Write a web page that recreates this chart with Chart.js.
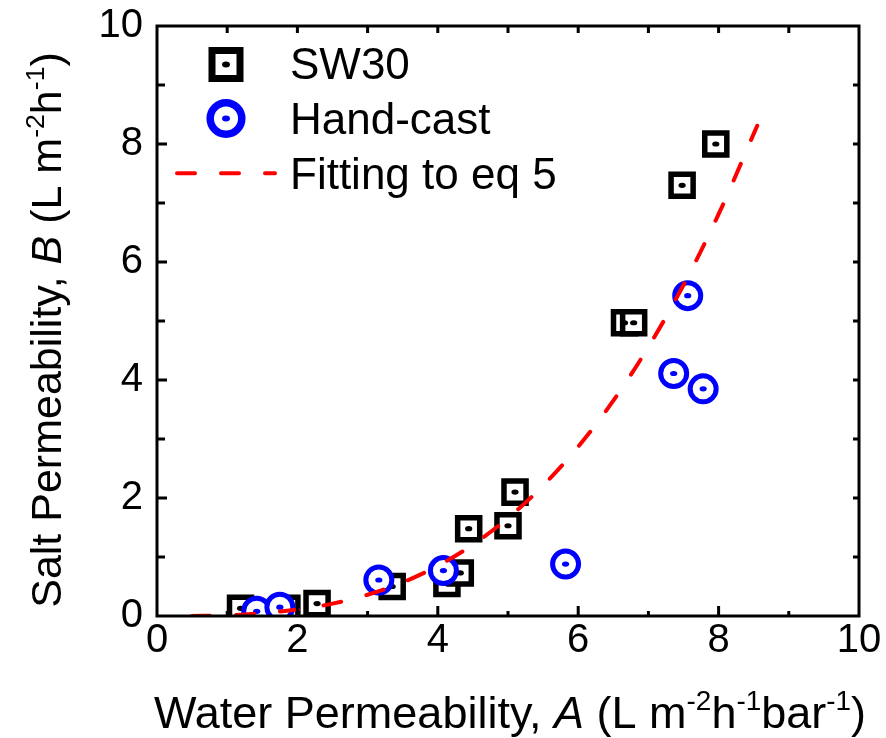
<!DOCTYPE html>
<html>
<head>
<meta charset="utf-8">
<script src="https://cdn.jsdelivr.net/npm/chart.js@4.4.1/dist/chart.umd.min.js"></script>
<style>
  html, body { margin: 0; padding: 0; background: #fff; }
  #wrap { width: 886px; height: 738px; }
</style>
</head>
<body>
<div id="wrap"><canvas id="c" width="886" height="738"></canvas></div>
<script>
// ---- data ----
const sw30X = [1.19, 1.85, 2.28, 3.35, 4.13, 4.32, 4.44, 5.00, 5.10, 6.66, 6.79, 7.48, 7.96];
const sw30Y = [0.13, 0.13, 0.21, 0.50, 0.55, 0.73, 1.48, 1.53, 2.10, 4.97, 4.97, 7.30, 8.00];
const handX = [1.42, 1.75, 3.16, 4.08, 5.82, 7.36, 7.56, 7.78];
const handY = [0.08, 0.15, 0.61, 0.77, 0.88, 4.11, 5.43, 3.85];
const fitX  = [0.5, 1.0, 1.5, 2.0, 2.5, 3.0, 3.5, 4.0, 4.5, 5.0, 5.5, 6.0, 6.5, 7.0, 7.5, 8.0, 8.55];
const fitY  = [0.00, 0.01, 0.05, 0.11, 0.21, 0.36, 0.57, 0.85, 1.21, 1.66, 2.21, 2.87, 3.65, 4.56, 5.61, 6.81, 8.31];
const xTickLabels = ['0', '2', '4', '6', '8', '10'];
const yTickLabels = ['0', '2', '4', '6', '8', '10'];
const seriesNames = ['SW30', 'Hand-cast', 'Fitting to eq 5'];

const zip = (xs, ys) => xs.map((x, i) => ({ x: x, y: ys[i] }));
const FONT = '"Liberation Sans", Arial, Helvetica, sans-serif';

// center dots inside markers
const dotPlugin = {
  id: 'dots',
  afterDatasetDraw(chart, args) {
    const ds = chart.data.datasets[args.index];
    if (!ds.dotColor) return;
    const ctx = chart.ctx;
    ctx.save();
    ctx.fillStyle = ds.dotColor;
    args.meta.data.forEach(p => {
      ctx.beginPath();
      ctx.ellipse(p.x, p.y, 3.6, 2.6, 0, 0, Math.PI * 2);
      ctx.fill();
    });
    ctx.restore();
  }
};

function drawRich(ctx, parts, size) {
  let w = 0;
  const segs = parts.map(([t, st]) => {
    const fs = st === 's' ? size * 0.62 : size;
    const font = (st === 'i' ? 'italic ' : '') + fs + 'px ' + FONT;
    ctx.font = font;
    const mw = ctx.measureText(t).width;
    const seg = { t, font, mw, dy: st === 's' ? -size * 0.40 : 0 };
    w += mw;
    return seg;
  });
  return { segs, w };
}
function paintRich(ctx, rich, x, y) {
  let cx = x;
  rich.segs.forEach(s => {
    ctx.font = s.font;
    ctx.fillText(s.t, cx, y + s.dy);
    cx += s.mw;
  });
}

const framePlugin = {
  id: 'frame',
  afterDraw(chart) {
    const ctx = chart.ctx;
    const a = chart.chartArea;
    const xs = chart.scales.x, ys = chart.scales.y;
    ctx.save();
    ctx.strokeStyle = '#000';
    ctx.lineWidth = 3;
    ctx.lineCap = 'butt';
    for (let v = 1; v < 10; v++) {
      const px = xs.getPixelForValue(v);
      const major = v % 2 === 0;
      ctx.beginPath();
      ctx.moveTo(px, a.bottom); ctx.lineTo(px, a.bottom - (major ? 10 : 5));
      ctx.moveTo(px, a.top); ctx.lineTo(px, a.top + 7);
      ctx.stroke();
      const py = ys.getPixelForValue(v);
      ctx.beginPath();
      ctx.moveTo(a.left, py); ctx.lineTo(a.left + (major ? 10 : 8), py);
      ctx.moveTo(a.right, py); ctx.lineTo(a.right - 6, py);
      ctx.stroke();
    }
    ctx.strokeRect(a.left, a.top, a.right - a.left, a.bottom - a.top);

    // legend
    const lx = 226;
    ctx.fillStyle = '#fff';
    ctx.lineWidth = 7;
    ctx.strokeStyle = '#000';
    ctx.beginPath(); ctx.rect(lx - 14, 64.5 - 14, 28, 28); ctx.fill(); ctx.stroke();
    ctx.fillStyle = '#000';
    ctx.beginPath(); ctx.ellipse(lx, 64.5, 4, 3, 0, 0, Math.PI * 2); ctx.fill();
    ctx.strokeStyle = '#0000ff';
    ctx.lineWidth = 7.5;
    ctx.fillStyle = '#fff';
    ctx.beginPath(); ctx.arc(lx, 118.5, 15.8, 0, Math.PI * 2); ctx.fill(); ctx.stroke();
    ctx.fillStyle = '#0000ff';
    ctx.beginPath(); ctx.ellipse(lx, 118.5, 4, 3, 0, 0, Math.PI * 2); ctx.fill();
    ctx.strokeStyle = '#ff0000';
    ctx.lineWidth = 4;
    ctx.lineCap = 'round';
    ctx.setLineDash([18, 26]);
    ctx.beginPath(); ctx.moveTo(177, 173.3); ctx.lineTo(275, 173.3); ctx.stroke();
    ctx.setLineDash([]);

    ctx.fillStyle = '#000';
    ctx.textBaseline = 'alphabetic';
    ctx.textAlign = 'left';
    ctx.font = '44px ' + FONT;
    ctx.fillText(seriesNames[0], 290, 79);
    ctx.fillText(seriesNames[1], 290, 134);
    ctx.fillText(seriesNames[2], 290, 189);

    // x title
    const xr = drawRich(ctx, [['Water Permeability, ', 'n'], ['A', 'i'], [' (L m', 'n'], ['-2', 's'], ['h', 'n'], ['-1', 's'], ['bar', 'n'], ['-1', 's'], [')', 'n']], 45);
    paintRich(ctx, xr, 510 - xr.w / 2, 728);
    // y title
    const yr = drawRich(ctx, [['Salt Permeability, ', 'n'], ['B', 'i'], [' (L m', 'n'], ['-2', 's'], ['h', 'n'], ['-1', 's'], [')', 'n']], 43);
    ctx.save();
    ctx.translate(61, 330);
    ctx.rotate(-Math.PI / 2);
    paintRich(ctx, yr, -yr.w / 2, 0);
    ctx.restore();
    ctx.restore();
  }
};

new Chart(document.getElementById('c'), {
  type: 'scatter',
  data: {
    datasets: [
      {
        label: seriesNames[0],
        data: zip(sw30X, sw30Y),
        pointStyle: 'rect',
        pointRadius: 15.6,
        pointHoverRadius: 15.6,
        borderWidth: 5.5,
        borderColor: '#000',
        backgroundColor: '#fff',
        dotColor: '#000',
        order: 3
      },
      {
        label: seriesNames[1],
        data: zip(handX, handY),
        pointStyle: 'circle',
        pointRadius: 13,
        pointHoverRadius: 13,
        borderWidth: 5,
        borderColor: '#0000ff',
        backgroundColor: '#fff',
        dotColor: '#0000ff',
        order: 2
      },
      {
        type: 'line',
        label: seriesNames[2],
        data: zip(fitX, fitY),
        showLine: true,
        pointRadius: 0,
        borderColor: '#ff0000',
        borderWidth: 4,
        borderDash: [18, 26],
        borderCapStyle: 'round',
        cubicInterpolationMode: 'monotone',
        fill: false,
        order: 1
      }
    ]
  },
  options: {
    responsive: false,
    animation: false,
    devicePixelRatio: 1,
    layout: { padding: { top: 26, right: 27, left: 0, bottom: 0 } },
    plugins: { legend: { display: false }, tooltip: { enabled: false } },
    scales: {
      x: {
        type: 'linear', min: 0, max: 10,
        afterFit: s => { s.height = 122; s.paddingLeft = 0; s.paddingRight = 0; },
        grid: { display: false, drawTicks: false },
        border: { display: false },
        ticks: {
          stepSize: 2, padding: 1, color: '#000',
          font: { family: FONT, size: 40 },
          maxRotation: 0,
          callback: (v) => xTickLabels[v / 2]
        }
      },
      y: {
        type: 'linear', min: 0, max: 10,
        afterFit: s => { s.width = 157; s.paddingTop = 0; s.paddingBottom = 0; },
        grid: { display: false, drawTicks: false },
        border: { display: false },
        ticks: {
          stepSize: 2, padding: 14, color: '#000',
          font: { family: FONT, size: 40 },
          callback: (v) => yTickLabels[v / 2]
        }
      }
    }
  },
  plugins: [dotPlugin, framePlugin]
});
</script>
</body>
</html>
